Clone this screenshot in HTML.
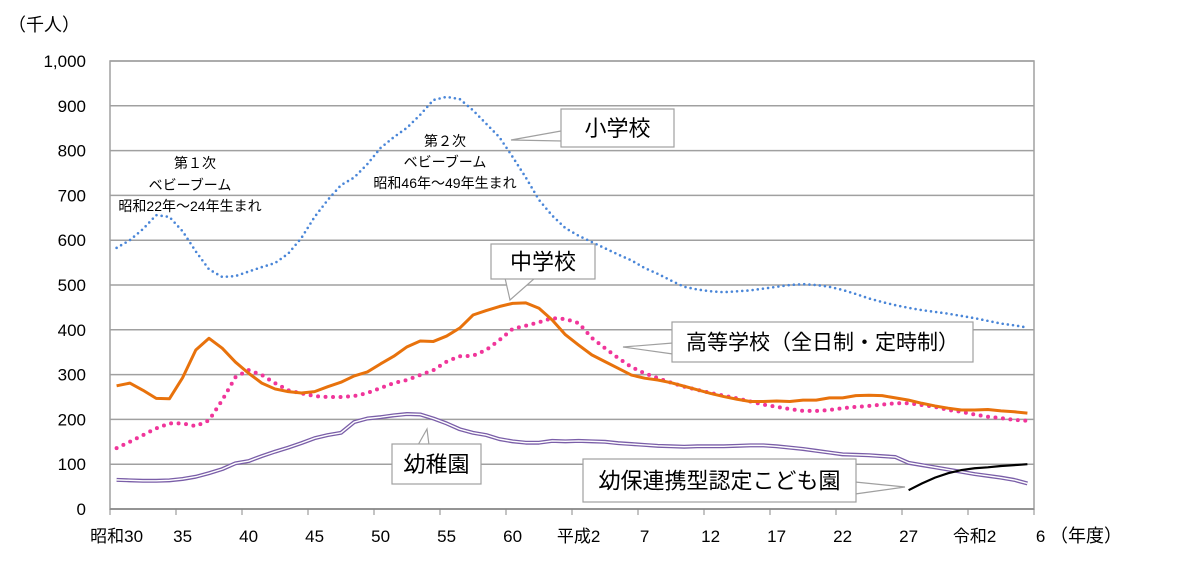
<!DOCTYPE html>
<html><head><meta charset="utf-8"><style>
body{margin:0;background:#fff;}
svg text{font-family:"Liberation Sans","Noto Sans CJK JP",sans-serif;fill:#000;}
</style></head><body>
<svg id="chart" width="1200" height="578" viewBox="0 0 1200 578" xmlns="http://www.w3.org/2000/svg">
<rect width="1200" height="578" fill="#fff"/>
<g id="grid"></g>
<g id="series"></g>
<g id="axes"></g>
<text x="8" y="31" font-size="18">（千人）</text>
<text x="1050" y="542" font-size="18">（年度）</text>
<g font-size="14" text-anchor="middle">
<text x="195" y="168">第１次</text><text x="190" y="190">ベビーブーム</text><text x="190" y="211">昭和22年～24年生まれ</text></g>
<g font-size="14" text-anchor="middle">
<text x="445" y="146">第２次</text><text x="445" y="167">ベビーブーム</text><text x="445" y="188">昭和46年～49年生まれ</text></g>
<g id="callouts"></g>
</svg>
<script>
const years = [];
for (let y = 0; y < 70; y++) years.push(y);
const xLabels = ["昭和30","35","40","45","50","55","60","平成2","7","12","17","22","27","令和2","6"];
const yTicks = [0,100,200,300,400,500,600,700,800,900,1000];
const elementary = [583,600,625,656,652,620,575,535,518,520,530,540,549,570,605,652,690,723,740,770,806,830,851,880,913,920,915,890,860,830,786,740,690,655,627,610,596,582,568,555,538,525,510,496,490,486,484,486,488,492,496,500,502,500,496,489,480,470,462,455,449,444,440,436,431,426,420,414,410,405];
const junior = [275,281,265,247,246,293,355,381,359,328,303,281,268,262,259,262,273,283,297,306,324,341,362,375,374,386,404,433,443,452,459,460,448,422,389,366,344,329,314,299,292,288,282,274,266,258,251,245,240,240,241,240,243,243,248,248,253,254,253,248,243,236,230,225,221,221,222,219,217,214];
const high = [136,150,165,180,191,191,185,198,243,294,310,299,281,265,258,252,250,250,252,259,270,281,288,299,310,329,341,342,355,377,402,409,417,426,424,415,382,359,337,317,303,292,282,273,266,259,253,247,240,233,228,223,219,219,221,225,228,230,233,236,236,232,228,221,217,211,206,203,199,197];
const kinder = [65,64,63,63,64,67,72,80,89,102,107,118,128,137,147,158,165,170,194,202,205,209,212,211,202,191,178,170,165,156,151,148,148,152,151,152,151,150,147,145,143,141,140,139,140,140,140,141,142,142,140,137,134,130,126,122,121,120,118,116,103,98,93,88,83,78,74,70,65,57];
const kodomoIdx = [60,61,62,63,64,65,66,67,68,69];
const kodomo = [42,57,70,80,87,91,93,96,98,100];

const NS="http://www.w3.org/2000/svg";
const L=110,R=1034,T=61,B=509,N=70,MAX=1000;
const cw=(R-L)/N;
const xS=i=>L+(i+0.5)*cw;
const yS=v=>B-v/MAX*(B-T);
function mk(tag,attrs,parent){const e=document.createElementNS(NS,tag);for(const k in attrs)e.setAttribute(k,attrs[k]);parent.appendChild(e);return e;}
const grid=document.getElementById('grid'),axes=document.getElementById('axes'),ser=document.getElementById('series'),cal=document.getElementById('callouts');
mk('rect',{x:L,y:T,width:R-L,height:B-T,fill:'none',stroke:'#a0a0a0','stroke-width':1.5},grid);
yTicks.forEach(v=>{
  const g=mk('line',{x1:L,x2:R,y1:yS(v),y2:yS(v),stroke:'#a0a0a0','stroke-width':1.5},grid);
  
  
  const t=mk('text',{x:86,y:yS(v)+6,'font-size':17,'text-anchor':'end'},axes);
  t.textContent=v.toLocaleString('en-US');
  
  
});
mk('line',{x1:L,x2:R,y1:B,y2:B,stroke:'#888','stroke-width':1.5},axes);
for(let k=0;k<=N;k+=5){mk('line',{x1:L+k*cw,x2:L+k*cw,y1:B,y2:B+6,stroke:'#888','stroke-width':1},axes);}
xLabels.forEach((s,j)=>{
  const t=mk('text',{x:xS(j*5),y:542,'font-size':17,'text-anchor':'middle'},axes);
  t.textContent=s;
  
  
});
function pts(idx,vals){return vals.map((v,k)=>xS(idx[k])+','+yS(v)).join(' ');}
let p;
p=mk('polyline',{points:pts(years,kinder),fill:'none',stroke:'#7a5ea8','stroke-width':4,'stroke-linejoin':'round'},ser);


mk('polyline',{points:pts(years,kinder),fill:'none',stroke:'#fff','stroke-width':1.4,'stroke-linejoin':'round'},ser);
p=mk('polyline',{points:pts(kodomoIdx,kodomo),fill:'none',stroke:'#000','stroke-width':2.2},ser);


p=mk('polyline',{points:pts(years,elementary),fill:'none',stroke:'#4a86d8','stroke-width':2.6,'stroke-dasharray':'0 5.2','stroke-linecap':'round'},ser);


p=mk('polyline',{points:pts(years,high),fill:'none',stroke:'#f0359a','stroke-width':4,'stroke-dasharray':'0 7.5','stroke-linecap':'round'},ser);


p=mk('polyline',{points:pts(years,junior),fill:'none',stroke:'#e8720c','stroke-width':3,'stroke-linejoin':'round'},ser);



function callout(name,x,y,w,h,path,label,fs){
  const g=mk('g',{},cal);
  
  
  mk('path',{d:path,fill:'#fff',stroke:'#a0a0a0','stroke-width':1.2},g);
  mk('rect',{x:x,y:y,width:w,height:h,fill:'#fff',stroke:'#a0a0a0','stroke-width':1.2},g);
  const t=mk('text',{x:x+w/2,y:y+h/2+fs*0.36,'font-size':fs,'text-anchor':'middle'},g);
  t.textContent=label;
}
callout('elementary-callout',561,109,113,38,'M561,131 L511,140 L562,141 Z','小学校',22);
callout('junior-high-callout',491,244,104,35,'M505,278 L510,300 L535,278 Z','中学校',22);
callout('high-school-callout',672,322,301,40,'M673,343 L623,347 L673,354 Z','高等学校（全日制・定時制）',21);
callout('kindergarten-callout',392,444,89,40,'M418,445 L427,429 L429,445 Z','幼稚園',22);
callout('kodomoen-callout',583,459,273,43,'M855,482 L905,487 L855,494 Z','幼保連携型認定こども園',22);
</script>
</body></html>
